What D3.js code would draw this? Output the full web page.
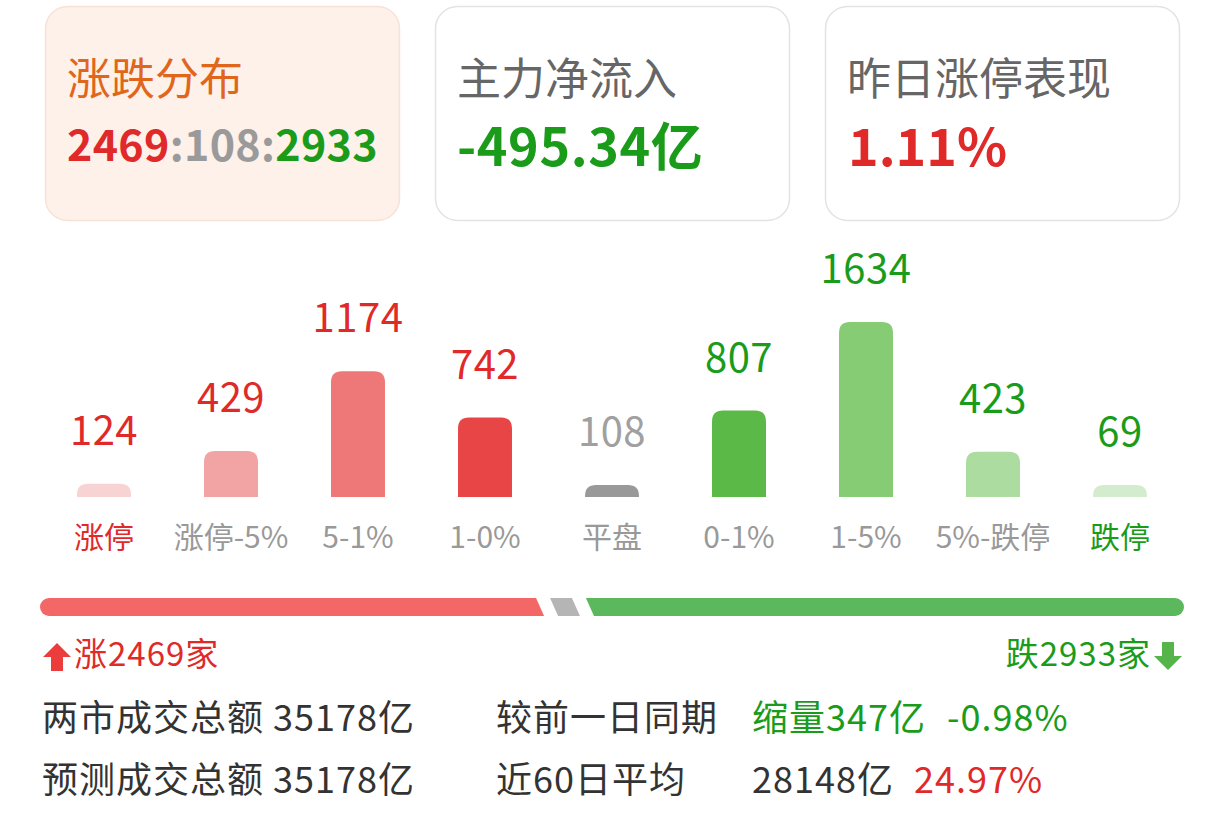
<!DOCTYPE html>
<html>
<head>
<meta charset="utf-8">
<script src="https://cdn.jsdelivr.net/npm/d3@7"></script>
<style>
  html, body { margin: 0; padding: 0; background: #ffffff; }
  svg { display: block; }
  text { font-family: 'Noto Sans CJK SC', 'Noto Sans', sans-serif; }
</style>
</head>
<body>
<div id="chart"></div>
<script>
// ---- data ----
const categories = ["涨停", "涨停-5%", "5-1%", "1-0%", "平盘", "0-1%", "1-5%", "5%-跌停", "跌停"];
const counts = [124, 429, 1174, 742, 108, 807, 1634, 423, 69];
const barColors = ["#f8d3d3", "#f2a3a3", "#ee7878", "#e84646", "#999999", "#5bb947", "#85cc74", "#acdca0", "#d4ecce"];
const valueColors = ["#e02a2a", "#e02a2a", "#e02a2a", "#e02a2a", "#a0a0a0", "#1a9c1a", "#1a9c1a", "#1a9c1a", "#1a9c1a"];
const labelColors = ["#e02a2a", "#999999", "#999999", "#999999", "#999999", "#999999", "#999999", "#999999", "#1a9c1a"];

const upCount = 2469, flatCount = 108, downCount = 2933;
const cardTitles = ["涨跌分布", "主力净流入", "昨日涨停表现"];
const netInflow = "-495.34亿";
const limitUpPerf = "1.11%";

const summaryRow1 = ["两市成交总额 35178亿", "较前一日同期", "缩量347亿", "-0.98%"];
const summaryRow2 = ["预测成交总额 35178亿", "近60日平均", "28148亿", "24.97%"];

// ---- drawing ----
const W = 1224, H = 829;
const svg = d3.select("#chart").append("svg").attr("width", W).attr("height", H);

const RED = "#e02a2a", GREEN = "#1a9c1a", GRAY = "#9a9a9a";

// cards
const cardX = [45, 435, 825];
const cardW = 354, cardY = 6, cardH = 214;
cardX.forEach((x, i) => {
  svg.append("rect")
    .attr("x", x + 0.5).attr("y", cardY + 0.5)
    .attr("width", cardW).attr("height", cardH)
    .attr("rx", 22).attr("ry", 22)
    .attr("fill", i === 0 ? "#fdf1ea" : "#ffffff")
    .attr("stroke", i === 0 ? "#f8e2d8" : "#e3e3e3")
    .attr("stroke-width", 1.5);
  svg.append("text")
    .attr("x", x + 22).attr("y", 95)
    .attr("font-size", 44)
    .attr("fill", i === 0 ? "#e0661c" : "#666666")
    .text(cardTitles[i]);
});

const ratio = svg.append("text").attr("x", 67).attr("y", 161)
  .attr("font-size", 43).attr("font-weight", "bold").attr("letter-spacing", 0.3);
ratio.append("tspan").attr("fill", RED).text(upCount);
ratio.append("tspan").attr("fill", GRAY).text(":" + flatCount + ":");
ratio.append("tspan").attr("fill", GREEN).text(downCount);

svg.append("text").attr("x", 457).attr("y", 166)
  .attr("font-size", 52).attr("font-weight", "bold").attr("letter-spacing", 0.6).attr("fill", GREEN)
  .text(netInflow);
svg.append("text").attr("x", 848).attr("y", 166)
  .attr("font-size", 52).attr("font-weight", "bold").attr("fill", RED)
  .text(limitUpPerf);

// bar chart
const x = d3.scaleBand()
  .domain(categories)
  .range([40.5, 1183.5])
  .paddingInner(0.575)
  .paddingOuter(0.2875);

const baseY = 497;
const y = d3.scaleLinear().domain([0, d3.max(counts)]).range([baseY, 322]);
const minH = 12;

function topRoundedBar(x0, y0, w, h, r) {
  r = Math.min(r, h, w / 2);
  return `M${x0},${y0 + h}` +
    `L${x0},${y0 + r}` +
    `Q${x0},${y0} ${x0 + r},${y0}` +
    `L${x0 + w - r},${y0}` +
    `Q${x0 + w},${y0} ${x0 + w},${y0 + r}` +
    `L${x0 + w},${y0 + h}Z`;
}

const barData = categories.map((c, i) => ({ c, v: counts[i], i }));
const barTop = d => Math.min(y(d.v), baseY - minH);

svg.append("g").selectAll("path").data(barData).join("path")
  .attr("d", d => topRoundedBar(x(d.c), barTop(d), x.bandwidth(), baseY - barTop(d), 11))
  .attr("fill", d => barColors[d.i]);

svg.append("g").selectAll("text").data(barData).join("text")
  .attr("x", d => x(d.c) + x.bandwidth() / 2)
  .attr("y", d => barTop(d) - 39)
  .attr("text-anchor", "middle")
  .attr("font-size", 40)
  .attr("letter-spacing", 0.5)
  .attr("fill", d => valueColors[d.i])
  .text(d => d.v);

svg.append("g").selectAll("text").data(barData).join("text")
  .attr("x", d => x(d.c) + x.bandwidth() / 2)
  .attr("y", 548)
  .attr("text-anchor", "middle")
  .attr("font-size", 30)
  .attr("fill", d => labelColors[d.i])
  .text(d => d.c);

// progress bar
const pbX0 = 40, pbX1 = 1184, pbY = 598, pbH = 18, gap = 14, slant = 4;
const totalCnt = upCount + flatCount + downCount;
const px = d3.scaleLinear().domain([0, totalCnt]).range([pbX0, pbX1 - 2 * gap]);
const redEnd = px(upCount);
const grayStart = redEnd + gap, grayEnd = px(upCount + flatCount) + gap;
const greenStart = grayEnd + gap;

const defs = svg.append("defs");
defs.append("clipPath").attr("id", "pbclip")
  .append("rect").attr("x", pbX0).attr("y", pbY).attr("width", pbX1 - pbX0).attr("height", pbH)
  .attr("rx", pbH / 2).attr("ry", pbH / 2);

const pb = svg.append("g").attr("clip-path", "url(#pbclip)");
const seg = (a, b) => `M${a - slant},${pbY}L${b - slant},${pbY}L${b + slant},${pbY + pbH}L${a + slant},${pbY + pbH}Z`;
pb.append("path").attr("d", seg(pbX0 - 20, redEnd)).attr("fill", "#f36767");
pb.append("path").attr("d", seg(grayStart, grayEnd)).attr("fill", "#b5b5b5");
pb.append("path").attr("d", seg(greenStart, pbX1 + 20)).attr("fill", "#5cb85c");

// up / down arrows
function arrow(cx, top, h, dir, color) {
  const w = 28, head = 14, stem = 12;
  let p;
  if (dir === "up") {
    p = `M${cx},${top}L${cx + w / 2},${top + head}L${cx + stem / 2},${top + head}L${cx + stem / 2},${top + h}L${cx - stem / 2},${top + h}L${cx - stem / 2},${top + head}L${cx - w / 2},${top + head}Z`;
  } else {
    const b = top + h;
    p = `M${cx},${b}L${cx + w / 2},${b - head}L${cx + stem / 2},${b - head}L${cx + stem / 2},${top}L${cx - stem / 2},${top}L${cx - stem / 2},${b - head}L${cx - w / 2},${b - head}Z`;
  }
  svg.append("path").attr("d", p).attr("fill", color);
}
arrow(57, 643, 28, "up", "#ec3d3d");
arrow(1168, 642, 28, "down", "#55b44a");

svg.append("text").attr("x", 74).attr("y", 666).attr("font-size", 33).attr("letter-spacing", 1).attr("fill", RED)
  .text("涨" + upCount + "家");
svg.append("text").attr("x", 1151).attr("y", 666).attr("font-size", 33).attr("letter-spacing", 1).attr("fill", GREEN)
  .attr("text-anchor", "end")
  .text("跌" + downCount + "家");

// summary rows
const rowY = [731, 793];
const rows = [summaryRow1, summaryRow2];
const colX = [42, 496, 752];
const fs = 36, ls = 1;
rows.forEach((r, ri) => {
  svg.append("text").attr("x", colX[0]).attr("y", rowY[ri]).attr("font-size", fs).attr("letter-spacing", ls).attr("fill", "#333333").text(r[0]);
  svg.append("text").attr("x", colX[1]).attr("y", rowY[ri]).attr("font-size", fs).attr("letter-spacing", ls).attr("fill", "#333333").text(r[1]);
  svg.append("text").attr("x", colX[2]).attr("y", rowY[ri]).attr("font-size", fs).attr("letter-spacing", ls)
    .attr("fill", ri === 0 ? GREEN : "#333333").text(r[2]);
  svg.append("text").attr("x", ri === 0 ? 947 : 914).attr("y", rowY[ri]).attr("font-size", fs).attr("letter-spacing", ls)
    .attr("fill", ri === 0 ? GREEN : RED).text(r[3]);
});
</script>
</body>
</html>
